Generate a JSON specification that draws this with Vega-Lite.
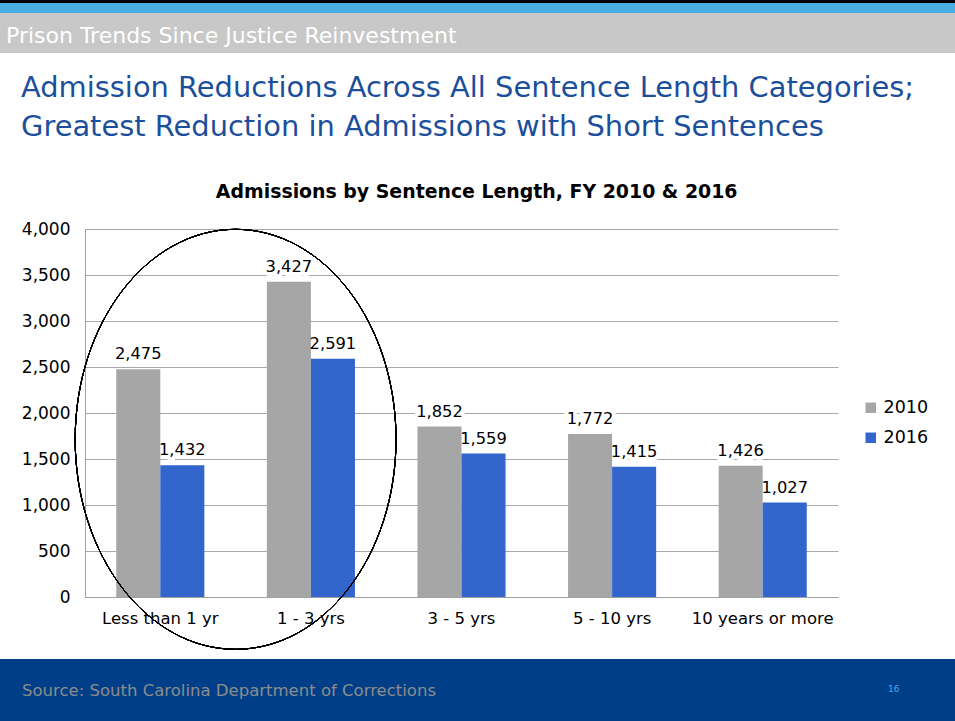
{
  "$schema": "https://vega.github.io/schema/vega-lite/v6.json",
  "padding": 0,
  "background": "white",
  "spacing": 0,
  "config": {
    "font": "DejaVu Sans",
    "view": {"stroke": null},
    "concat": {"spacing": 0},
    "title": {"font": "DejaVu Sans", "fontWeight": "normal"}
  },
  "vconcat": [
    {
      "width": 955, "height": 3,
      "view": {"fill": "#000000", "stroke": null},
      "data": {"values": [{}]},
      "mark": {"type": "rect", "opacity": 0}
    },
    {
      "width": 955, "height": 10,
      "view": {"fill": "#4BAEE3", "stroke": null},
      "data": {"values": [{}]},
      "mark": {"type": "rect", "opacity": 0}
    },
    {
      "width": 955, "height": 40,
      "view": {"fill": "#C8C8C8", "stroke": null},
      "data": {"values": [{}]},
      "mark": {"type": "rect", "opacity": 0},
      "title": {
        "text": "Prison Trends Since Justice Reinvestment",
        "fontSize": 22, "color": "white", "anchor": "start", "frame": "group",
        "orient": "top", "offset": -35, "dx": 6
      }
    },
    {
      "width": 955, "height": 130,
      "data": {"values": [{}]},
      "mark": {"type": "rect", "opacity": 0},
      "title": {
        "text": ["Admission Reductions Across All Sentence Length Categories;", "Greatest Reduction in Admissions with Short Sentences"],
        "fontSize": 28.9, "lineHeight": 39, "color": "#1B4F9C", "anchor": "start", "frame": "group",
        "orient": "top", "offset": -89, "dx": 21
      }
    },
    {
      "hconcat": [
        {
          "width": 21, "height": 10,
          "data": {"values": [{}]},
          "mark": {"type": "rect", "opacity": 0}
        },
        {
          "width": 753, "height": 368,
          "title": {
            "text": "Admissions by Sentence Length, FY 2010 & 2016",
            "fontSize": 18.9, "fontWeight": "bold", "color": "black",
            "anchor": "middle", "frame": "bounds", "offset": 18, "dx": 47
          },
          "data": {"values": [
            {"category": "Less than 1 yr", "year": "2010", "admissions": 2475},
            {"category": "Less than 1 yr", "year": "2016", "admissions": 1432},
            {"category": "1 - 3 yrs", "year": "2010", "admissions": 3427},
            {"category": "1 - 3 yrs", "year": "2016", "admissions": 2591},
            {"category": "3 - 5 yrs", "year": "2010", "admissions": 1852},
            {"category": "3 - 5 yrs", "year": "2016", "admissions": 1559},
            {"category": "5 - 10 yrs", "year": "2010", "admissions": 1772},
            {"category": "5 - 10 yrs", "year": "2016", "admissions": 1415},
            {"category": "10 years or more", "year": "2010", "admissions": 1426},
            {"category": "10 years or more", "year": "2016", "admissions": 1027}
          ]},
          "encoding": {
            "x": {
              "field": "category", "type": "nominal", "sort": null,
              "scale": {"paddingInner": 0.415, "paddingOuter": 0.2075},
              "axis": {
                "title": null, "labelAngle": 0, "labelFontSize": 16.5, "labelColor": "black",
                "labelPadding": 13, "ticks": false, "domainColor": "#A0A0A0", "grid": false
              }
            },
            "y": {
              "field": "admissions", "type": "quantitative",
              "scale": {"domain": [0, 4000]},
              "axis": {
                "title": null, "values": [0, 500, 1000, 1500, 2000, 2500, 3000, 3500, 4000],
                "format": ",d", "labelFontSize": 17, "labelColor": "black", "labelPadding": 15,
                "ticks": false, "domainColor": "#A0A0A0", "gridColor": "#A8A8A8"
              }
            }
          },
          "layer": [
            {
              "mark": {"type": "text", "baseline": "alphabetic", "dy": -10, "fontSize": 16.3,
                       "stroke": "white", "strokeWidth": 8, "strokeJoin": "round", "fill": "white"},
              "encoding": {
                "xOffset": {"field": "year", "type": "nominal"},
                "text": {"field": "admissions", "type": "quantitative", "format": ","}
              }
            },
            {
              "mark": {"type": "bar"},
              "encoding": {
                "xOffset": {"field": "year", "type": "nominal"},
                "color": {
                  "field": "year", "type": "nominal",
                  "scale": {"domain": ["2010", "2016"], "range": ["#A6A6A6", "#3366CC"]},
                  "legend": {
                    "title": null, "orient": "none", "legendX": 862, "legendY": 399,
                    "symbolType": "square", "symbolSize": 110, "symbolStrokeWidth": 0,
                    "labelFontSize": 17.5, "labelColor": "black", "rowPadding": 11
                  }
                }
              }
            },
            {
              "mark": {"type": "text", "baseline": "alphabetic", "dy": -10, "fontSize": 16.3, "color": "black"},
              "encoding": {
                "xOffset": {"field": "year", "type": "nominal"},
                "text": {"field": "admissions", "type": "quantitative", "format": ","}
              }
            },
            {
              "mark": {
                "type": "point",
                "shape": "M -0.764 0 A 0.764 1 0 1 0 0.764 0 A 0.764 1 0 1 0 -0.764 0 Z",
                "size": 176400, "filled": false, "stroke": "black", "strokeWidth": 1, "opacity": 1
              },
              "encoding": {
                "x": {"datum": "Less than 1 yr", "type": "nominal", "bandPosition": 1.3547},
                "y": {"datum": 1714, "type": "quantitative"}
              }
            }
          ]
        }
      ]
    },
    {
      "width": 955, "height": 7,
      "data": {"values": [{}]},
      "mark": {"type": "rect", "opacity": 0}
    },
    {
      "hconcat": [
        {
          "width": 870, "height": 62,
          "view": {"fill": "#003F87", "stroke": null},
          "data": {"values": [{}]},
          "mark": {"type": "rect", "opacity": 0},
          "title": {
            "text": "Source: South Carolina Department of Corrections",
            "fontSize": 16.5, "color": "#8C8C8C", "anchor": "start", "frame": "group",
            "orient": "top", "offset": -40, "dx": 22
          }
        },
        {
          "width": 85, "height": 62,
          "view": {"fill": "#003F87", "stroke": null},
          "data": {"values": [{}]},
          "mark": {"type": "rect", "opacity": 0},
          "title": {
            "text": "16",
            "fontSize": 9, "color": "#3FA9F5", "anchor": "start", "frame": "group",
            "orient": "top", "offset": -35, "dx": 18
          }
        }
      ]
    }
  ]
}
